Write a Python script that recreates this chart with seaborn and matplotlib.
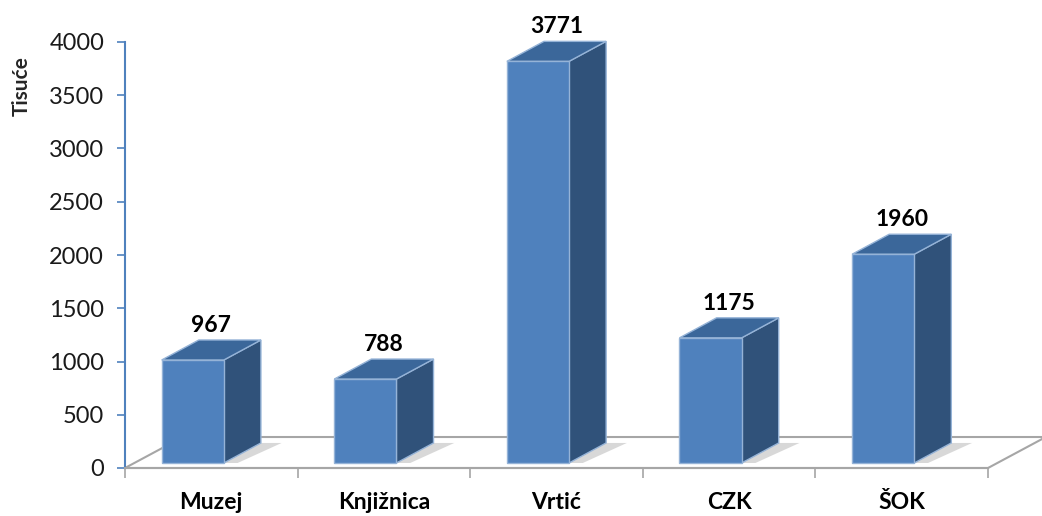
import pandas as pd
import matplotlib.pyplot as plt
import seaborn as sns
from matplotlib.patches import Polygon

# data
categories = ['Muzej', 'Knjižnica', 'Vrtić', 'CZK', 'ŠOK']
values = [967, 788, 3771, 1175, 1960]
y_ticks = [0, 500, 1000, 1500, 2000, 2500, 3000, 3500, 4000]

sns.set_style('white')
plt.rcParams['font.family'] = ['Lato', 'DejaVu Sans']

FRONT = '#4F81BD'
SIDE = '#30527A'
TOP = '#3B679A'
EDGE = '#95B3D7'
GRID = '#A6A6A6'

# fake 3D geometry (data units)
BAR_W = 0.36
DX, DY = 0.215, 188      # bar depth
BASE = 47                # bars stand a bit behind the front floor edge
FDX, FDY = 0.335, 291    # floor depth

fig = plt.figure(figsize=(10.42, 5.16), dpi=100)
ax = fig.add_axes([125 / 1042, 48 / 516, 863 / 1042, 426 / 516])

df = pd.DataFrame({'cat': categories, 'val': values})

# floor
floor = Polygon([(-0.5, 0), (4.5, 0), (4.5 + FDX, FDY), (-0.5 + FDX, FDY)],
                closed=True, facecolor='white', edgecolor=GRID, lw=1.5,
                clip_on=False, zorder=0)
ax.add_patch(floor)

sns.barplot(data=df, x='cat', y='val', color=FRONT, width=BAR_W,
            edgecolor=EDGE, linewidth=1, saturation=1, ax=ax, zorder=3)

bars = [p for p in ax.patches if p is not floor]
for p in bars:
    x0 = p.get_x() - (DX / 2)
    w = p.get_width()
    h = p.get_height()
    p.set_x(x0)
    p.set_y(BASE)
    b = BASE
    # soft shadow on the floor
    shadow = Polygon([(x0 + w, b), (x0 + w + DX, b + DY), (x0 + w + DX + 0.12, b + DY),
                      (x0 + w + 0.08, b)], closed=True, facecolor='#bfbfbf',
                     edgecolor='none', alpha=0.6, zorder=1)
    ax.add_patch(shadow)
    side = Polygon([(x0 + w, b), (x0 + w + DX, b + DY), (x0 + w + DX, b + h + DY),
                    (x0 + w, b + h)], closed=True, facecolor=SIDE, edgecolor=EDGE,
                   lw=1, zorder=2, clip_on=False)
    top = Polygon([(x0, b + h), (x0 + DX, b + h + DY), (x0 + w + DX, b + h + DY),
                   (x0 + w, b + h)], closed=True, facecolor=TOP, edgecolor=EDGE,
                  lw=1, zorder=2, clip_on=False)
    ax.add_patch(side)
    ax.add_patch(top)
    ax.annotate(f'{int(h)}', (x0 + (w + DX) / 2, b + h + DY), xytext=(0, 3),
                textcoords='offset points', ha='center', va='bottom',
                fontsize=16.5, fontweight='bold', color='black', annotation_clip=False)

ax.set_xlim(-0.5, 4.5)
ax.set_ylim(0, 4000)
ax.set_yticks(y_ticks)
ax.set_yticklabels([str(t) for t in y_ticks], fontsize=17, color='#1a1a1a')
ax.tick_params(axis='y', length=6, width=1.2, color=FRONT, pad=9, left=True)

ax.set_xticks(range(len(categories)))
ax.set_xticklabels(categories, fontsize=16.5, fontweight='bold', color='black')
ax.set_xticks([i - 0.5 for i in range(len(categories) + 1)], minor=True)
ax.tick_params(axis='x', which='major', length=0, pad=17)
ax.tick_params(axis='x', which='minor', length=7, width=1.2, color=GRID, bottom=True)

ax.set_xlabel('')
ax.set_ylabel('Tisuće', fontsize=15, fontweight='bold', rotation=90)
ax.yaxis.set_label_coords(-0.108, 0.897)

for s in ['top', 'right']:
    ax.spines[s].set_visible(False)
ax.spines['left'].set_color(FRONT)
ax.spines['left'].set_linewidth(1.5)
ax.spines['bottom'].set_color(GRID)
ax.spines['bottom'].set_linewidth(1.5)
ax.grid(False)

fig.savefig('out.png', dpi=100)
